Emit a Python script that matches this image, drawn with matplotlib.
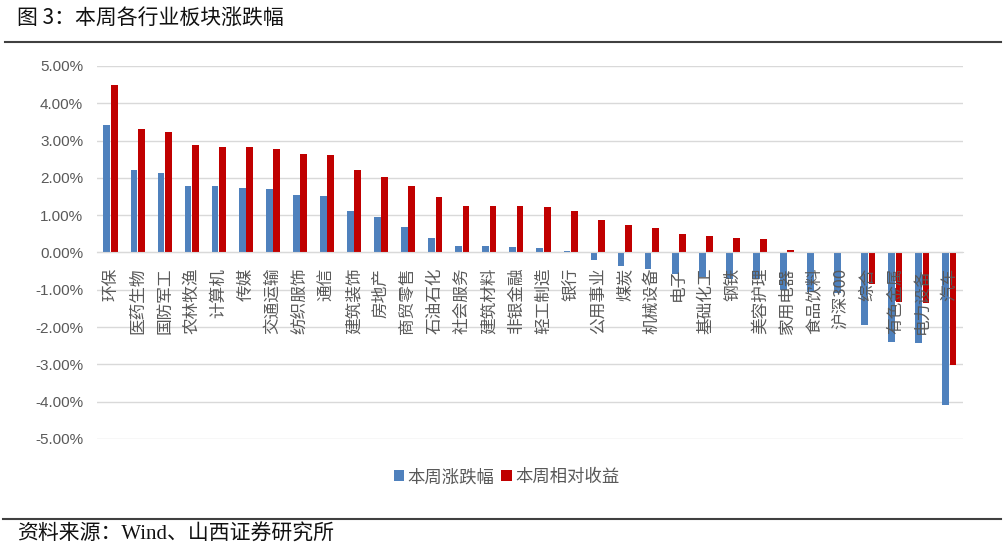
import numpy as np
import matplotlib
matplotlib.use('Agg')
import matplotlib.pyplot as plt

plt.rcParams['font.family'] = ['Noto Sans CJK SC', 'DejaVu Sans']

# Industry categories (sorted by relative return)
categories = ['环保', '医药生物', '国防军工', '农林牧渔', '计算机', '传媒', '交通运输',
              '纺织服饰', '通信', '建筑装饰', '房地产', '商贸零售', '石油石化', '社会服务',
              '建筑材料', '非银金融', '轻工制造', '银行', '公用事业', '煤炭', '机械设备',
              '电子', '基础化工', '钢铁', '美容护理', '家用电器', '食品饮料', '沪深300',
              '综合', '有色金属', '电力设备', '汽车']

# Weekly change (%)
weekly_change = [3.42, 2.20, 2.12, 1.79, 1.77, 1.73, 1.71, 1.55, 1.52, 1.12, 0.95, 0.68,
                 0.39, 0.17, 0.17, 0.16, 0.13, 0.04, -0.20, -0.35, -0.43, -0.58, -0.66,
                 -0.70, -0.72, -1.00, -1.07, -1.08, -1.94, -2.40, -2.44, -4.09]

# Relative return vs 沪深300 (%)
relative_return = [4.50, 3.30, 3.23, 2.87, 2.84, 2.82, 2.78, 2.64, 2.61, 2.20, 2.03, 1.77,
                   1.48, 1.25, 1.25, 1.25, 1.21, 1.12, 0.88, 0.73, 0.65, 0.50, 0.43,
                   0.38, 0.36, 0.08, 0.01, 0.00, -0.85, -1.32, -1.36, -3.02]

yticks = [5, 4, 3, 2, 1, 0, -1, -2, -3, -4, -5]

blue = '#4F81BD'
red = '#C00000'
grey_text = '#595959'

fig = plt.figure(figsize=(10.07, 5.49), dpi=100)
ax = fig.add_axes([0.0963, 0.2004, 0.86, 0.6794])

x = np.arange(len(categories))
w = 0.25

# gridlines behind the bars
for t in yticks:
    ax.axhline(t, color='#D9D9D9', lw=1, zorder=0)

ax.bar(x - 0.135, weekly_change, width=w, color=blue, label='本周涨跌幅', zorder=1)
ax.bar(x + 0.135, relative_return, width=w, color=red, label='本周相对收益', zorder=1)

ax.set_xlim(-0.5, len(categories) - 0.5)
ax.set_ylim(-5, 5)
ax.set_yticks(yticks)
ax.set_yticklabels([f'{t:.2f}%' for t in yticks], family=['Liberation Sans', 'DejaVu Sans'],
                   fontsize=11, color=grey_text)
ax.tick_params(axis='y', length=0, pad=10)

# category labels sit under the zero line
ax.spines['bottom'].set_position(('data', 0))
ax.spines['bottom'].set_color('#D9D9D9')
for s in ['top', 'right', 'left']:
    ax.spines[s].set_visible(False)
ax.set_xticks(x)
ax.set_xticklabels(categories, rotation=90, fontsize=12, color=grey_text)
ax.tick_params(axis='x', length=0, pad=11)

# legend
fig.legend(loc='center', bbox_to_anchor=(0.503, 0.131), ncol=2, frameon=False,
           handlelength=0.6, handleheight=0.6, handletextpad=0.2, columnspacing=0.4,
           prop={'size': 12.5}, labelcolor=grey_text)

# title, rules and source line
fig.text(0.017, 0.968, '图 3：本周各行业板块涨跌幅', fontsize=15, color='#111111',
         va='center', ha='left')
fig.add_artist(plt.Line2D([0.005, 0.994], [0.923, 0.923], color='#404040', lw=1.5))
fig.add_artist(plt.Line2D([0.003, 0.994], [0.055, 0.055], color='#404040', lw=1.5))
fig.text(0.017, 0.026, '资料来源：Wind、山西证券研究所', fontsize=15,
         family=['Liberation Serif', 'Noto Sans CJK SC'], color='#111111',
         va='center', ha='left')

fig.savefig('out.png', dpi=100)
